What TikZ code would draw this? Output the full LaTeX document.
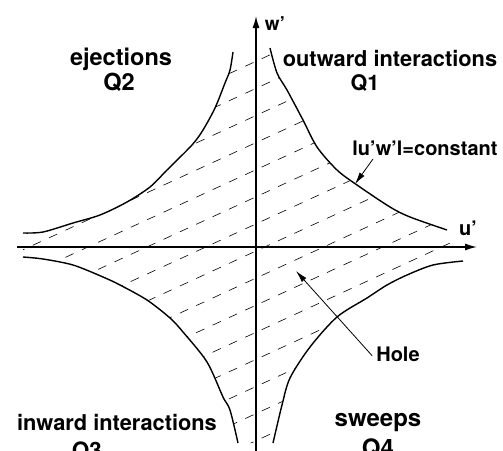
\documentclass[tikz,border=0pt]{standalone}
\usepackage{fontspec}
\setmainfont{TeX Gyre Heros}
\usetikzlibrary{arrows.meta}
\begin{document}
\begin{tikzpicture}[x=1pt,y=-1pt,
  curve/.style={line width=1.4pt, line join=round},
  axis/.style={line width=1.4pt, -{Latex[length=12pt,width=7pt]}},
  hatch/.style={line width=0.6pt, dash pattern=on 9pt off 9pt},
  lab/.style={font=\bfseries\fontsize{#1}{#1}\selectfont, inner sep=0pt, anchor=base},
  lab/.default=22,
  pointer/.style={line width=0.8pt, -{Latex[length=12pt,width=6pt]}}]
\useasboundingbox (0,0) rectangle (503,450);
\fill[white] (0,0) rectangle (503,450);

% hatched hole
\begin{scope}
\clip plot[smooth,tension=0.5] coordinates {(233,52) (230,70) (225,83) (215,108) (203,130) (192,145) (167,170) (150,187) (127,202) (100,215) (73,223) (43,232) (23,233)}
  -- plot[smooth,tension=0.5] coordinates {(23,257) (43,259) (73,265) (103,277) (120,285) (147,300) (170,318) (183,332) (207,362) (223,397) (230,410) (238,443)}
  -- plot[smooth,tension=0.5] coordinates {(273,443) (282,405) (290,378) (310,347) (337,317) (367,298) (387,285) (407,275) (433,265) (463,261)}
  -- plot[smooth,tension=0.5] coordinates {(447,230) (410,217) (390,207) (357,185) (337,170) (317,147) (303,120) (287,90) (277,73) (270,48)}
  -- cycle;
\foreach \k in {-8,...,8}
  \draw[hatch] (0,{251+27.1*\k+0.46*256}) -- (503,{251+27.1*\k-0.46*247});
\end{scope}

% boundary curves |u'w'| = constant
\draw[curve] plot[smooth,tension=0.5] coordinates {(270,48) (277,73) (287,90) (303,120) (317,147) (337,170) (357,185) (390,207) (410,217) (447,230)};
\draw[curve] plot[smooth,tension=0.5] coordinates {(233,52) (230,70) (225,83) (215,108) (203,130) (192,145) (167,170) (150,187) (127,202) (100,215) (73,223) (43,232) (23,233)};
\draw[curve] plot[smooth,tension=0.5] coordinates {(23,257) (43,259) (73,265) (103,277) (120,285) (147,300) (170,318) (183,332) (207,362) (223,397) (230,410) (238,443)};
\draw[curve] plot[smooth,tension=0.5] coordinates {(273,443) (282,405) (290,378) (310,347) (337,317) (367,298) (387,285) (407,275) (433,265) (463,261)};

% axes
\coordinate (wbot) at (256,452);
\coordinate (wtop) at (256,16);
\coordinate (uleft) at (17,247);
\coordinate (uright) at (477,247);
\draw[axis] (wbot) -- (wtop);
\draw[axis] (uleft) -- (uright);
\node[lab=19] (wl) at (275,30) {w’};
\node[lab=20] (ul) at (468,235) {u’};

% quadrant labels
\node[lab=23.5] (ej) at (121,65.7) {ejections};
\node[lab=23.5] (q2) at (119,90) {Q2};
\node[lab=21.8] (ow) at (390,66.7) {outward interactions};
\node[lab=21.5] (q1) at (365,90) {Q1};
\node[lab=21.8] (iw) at (117,430) {inward interactions};
\node[lab=22.5] (q3) at (87,458) {Q3};
\node[lab=24] (sw) at (378,426.7) {sweeps};
\node[lab=24] (q4) at (378,456) {Q4};

% pointers
\node[lab=20] (const) at (425,155) {lu’w’l=constant};
\coordinate (ctip) at (355,184);
\draw[pointer] ([xshift=-52pt,yshift=-4pt]const.base) -- (ctip);
\node[lab=20] (hole) at (398,361.7) {Hole};
\coordinate (htip) at (296,271);
\draw[pointer] ([xshift=-4pt,yshift=6pt]hole.base west) -- (htip);
\end{tikzpicture}
\end{document}
